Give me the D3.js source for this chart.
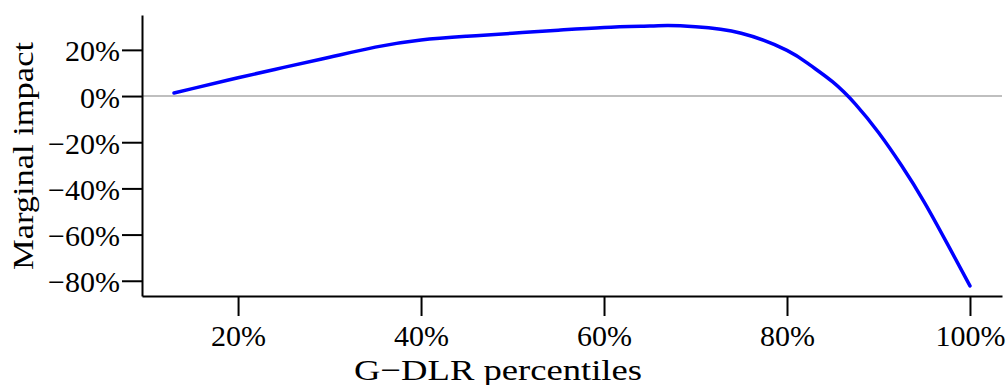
<!DOCTYPE html>
<html>
<head>
<meta charset="utf-8">
<script src="https://cdn.jsdelivr.net/npm/d3@7"></script>
<style>
  html, body { margin: 0; padding: 0; background: #fff; }
  svg { display: block; }
  svg text { font-family: "Liberation Serif", "Times New Roman", Times, "DejaVu Serif", serif; fill: #000; }
</style>
</head>
<body>
<script>
// Data
const percentiles = [13, 15, 20, 25, 30, 35, 40, 45, 50, 55, 60, 65, 67, 70, 75, 80, 82.5, 85, 87.5, 90, 92.5, 95, 97.5, 100];
const impact = [1.3, 3.2, 7.9, 12.4, 16.8, 21.2, 24.3, 25.9, 27.2, 28.5, 29.7, 30.3, 30.5, 30.0, 27.2, 19.8, 13.5, 6.1, -3.6, -15.8, -30.0, -45.9, -63.8, -82.2];
const xTicks = [20, 40, 60, 80, 100];
const yTicks = [20, 0, -20, -40, -60, -80];
const xTitle = "G\u2212DLR percentiles";
const yTitle = "Marginal impact";

const W = 1008, H = 385;
const mLeft = 142, mRight = 1002, mTop = 15, mBottom = 296;
const FONT = "Liberation Serif, Times New Roman, Times, DejaVu Serif, serif";

const svg = d3.select("body").append("svg").attr("width", W).attr("height", H);

const x = d3.scaleLinear().domain([9.5, 103.5]).range([mLeft, mRight]);
const y = d3.scaleLinear().domain([35.1, -86.6]).range([mTop, mBottom]);

const fmt = v => (v < 0 ? "\u2212" + Math.abs(v) : v) + "%";

// zero reference line
svg.append("line")
  .attr("x1", mLeft).attr("x2", mRight)
  .attr("y1", y(0)).attr("y2", y(0))
  .attr("stroke", "#bfbfbf").attr("stroke-width", 2);

// curve
const data = percentiles.map((p, i) => ({ p, v: impact[i] }));
svg.append("path")
  .datum(data)
  .attr("fill", "none")
  .attr("stroke", "#0000ff")
  .attr("stroke-width", 3.5)
  .attr("stroke-linecap", "round")
  .attr("stroke-linejoin", "round")
  .attr("d", d3.line().x(d => x(d.p)).y(d => y(d.v)).curve(d3.curveNatural));

// y axis
const yAxis = svg.append("g")
  .attr("transform", `translate(${mLeft},0)`)
  .call(d3.axisLeft(y).tickValues(yTicks).tickSize(20).tickSizeOuter(0).tickPadding(2).tickFormat(fmt));

// x axis
const xAxis = svg.append("g")
  .attr("transform", `translate(0,${mBottom})`)
  .call(d3.axisBottom(x).tickValues(xTicks).tickSize(20).tickSizeOuter(0).tickFormat(fmt));

[yAxis, xAxis].forEach(g => {
  g.attr("font-family", FONT).attr("font-size", 30);
  g.select(".domain").attr("stroke", "#000").attr("stroke-width", 2);
  g.selectAll(".tick line").attr("stroke", "#000").attr("stroke-width", 2);
  g.selectAll(".tick text").attr("font-size", 30).attr("font-family", FONT).attr("fill", "#000");
});
yAxis.selectAll(".tick text").attr("dy", "0.37em");
xAxis.selectAll(".tick text").attr("y", 50).attr("dy", 0);

// axis titles
svg.append("text")
  .attr("x", 498).attr("y", 380)
  .attr("text-anchor", "middle")
  .attr("font-family", FONT)
  .attr("font-size", 30)
  .attr("textLength", 288).attr("lengthAdjust", "spacingAndGlyphs")
  .text(xTitle);

svg.append("text")
  .attr("transform", "translate(33,156) rotate(-90)")
  .attr("text-anchor", "middle")
  .attr("font-family", FONT)
  .attr("font-size", 30)
  .attr("textLength", 228).attr("lengthAdjust", "spacingAndGlyphs")
  .text(yTitle);
</script>
</body>
</html>
